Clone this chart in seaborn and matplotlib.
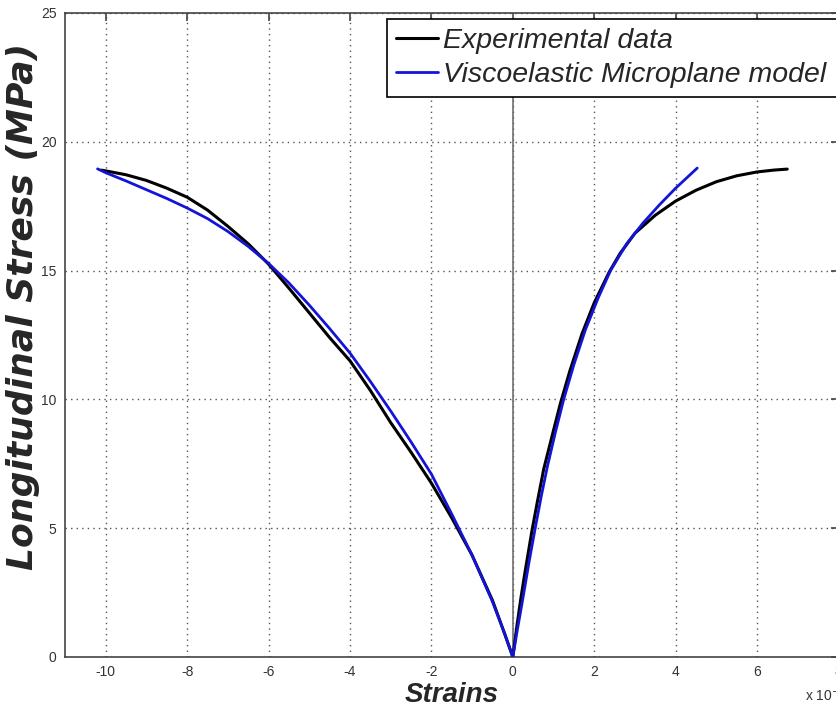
import matplotlib
matplotlib.use("Agg")
import matplotlib.pyplot as plt
import seaborn as sns

# strains are in units of 1e-3
exp_x = [-10.1, -9.5, -9.0, -8.5, -8.0, -7.5, -7.0, -6.5, -6.0, -5.5, -5.0, -4.5,
         -4.0, -3.5, -3.0, -2.5, -2.0, -1.5, -1.0, -0.5, -0.2, 0.0,
         0.1, 0.2, 0.3, 0.47, 0.6, 0.76, 1.0, 1.17, 1.4, 1.7, 2.0, 2.37, 2.64,
         3.0, 3.5, 4.0, 4.5, 5.0, 5.5, 6.0, 6.4, 6.74]
exp_y = [18.9, 18.72, 18.5, 18.2, 17.85, 17.35, 16.72, 16.04, 15.25, 14.32, 13.36, 12.4,
         11.5, 10.35, 9.1, 7.95, 6.75, 5.4, 3.95, 2.2, 0.9, 0.0,
         1.2, 2.3, 3.3, 4.9, 6.0, 7.3, 8.8, 9.85, 11.1, 12.55, 13.75, 14.95, 15.68,
         16.45, 17.15, 17.7, 18.12, 18.45, 18.68, 18.83, 18.9, 18.94]

model_x = [-10.2, -10.0, -9.5, -9.0, -8.5, -8.0, -7.5, -7.0, -6.5, -6.0, -5.5, -5.0,
           -4.5, -4.0, -3.5, -3.0, -2.5, -2.0, -1.5, -1.0, -0.5, -0.2, 0.0,
           0.1, 0.25, 0.4, 0.55, 0.7, 0.85, 1.05, 1.25, 1.5, 1.78, 2.1, 2.4,
           2.8, 3.2, 3.6, 4.0, 4.53]
model_y = [18.95, 18.8, 18.48, 18.14, 17.8, 17.43, 17.02, 16.52, 15.94, 15.28, 14.52, 13.66,
           12.75, 11.8, 10.7, 9.55, 8.35, 7.1, 5.55, 3.95, 2.15, 0.9, 0.0,
           0.95, 2.3, 3.7, 5.0, 6.25, 7.4, 8.75, 10.0, 11.35, 12.69, 13.95, 15.0,
           16.05, 16.85, 17.55, 18.2, 18.98]

labels = ["Experimental data", "Viscoelastic Microplane model"]
x_ticks = [-10, -8, -6, -4, -2, 0, 2, 4, 6, 8]
y_ticks = [0, 5, 10, 15, 20, 25]

sns.set_style("white")
plt.rcParams['font.family'] = ['Liberation Sans', 'DejaVu Sans']
plt.rcParams['axes.unicode_minus'] = False

W, H = 836, 708
fig = plt.figure(figsize=(W / 100, H / 100), dpi=100)
ax = fig.add_axes([65 / W, (H - 657) / H, (838.5 - 65) / W, 644 / H])

ax.axvline(0, color='#707070', lw=1.2, zorder=1)
sns.lineplot(x=exp_x, y=exp_y, ax=ax, color='black', lw=2.2, sort=False,
             estimator=None, label=labels[0], zorder=3)
sns.lineplot(x=model_x, y=model_y, ax=ax, color='#1414d8', lw=2.0, sort=False,
             estimator=None, label=labels[1], zorder=4)

ax.set_xlim(-11, 8)
ax.set_ylim(0, 25)
ax.set_xticks(x_ticks)
ax.set_yticks(y_ticks)
ax.grid(True, color='#555555', linestyle=(0, (1, 3)), lw=1)
ax.tick_params(direction='in', length=6, width=1.2, color='#444444',
               labelsize=10, labelcolor='#333333', top=True, right=True, pad=6)
for s in ax.spines.values():
    s.set_color('#444444')
    s.set_linewidth(1.2)

ax.set_xlabel("Strains", fontsize=20, fontweight='bold', fontstyle='italic', labelpad=2)
ax.set_ylabel("Longitudinal Stress (MPa)", fontsize=26, fontweight='bold',
              fontstyle='italic', family=['DejaVu Sans'])
ax.yaxis.label.set_va('center')
ax.yaxis.set_label_coords((23 - 65) / 773.5, (657 - 306) / 644)
fig.text(805 / W, 1 - 695 / H, r"x 10$^{-3}$", fontsize=10, color='#333333',
         va='center', ha='left')

# legend box runs past the right edge of the picture, like the source
leg = ax.legend(loc='upper left', bbox_to_anchor=(387 / W, 0, 470 / W, 1 - 19 / H),
                bbox_transform=fig.transFigure, mode='expand', fontsize=20.5,
                frameon=True, fancybox=False, framealpha=1, edgecolor='black',
                handlelength=1.5, handletextpad=0.15, labelspacing=0.3,
                borderpad=0.3, borderaxespad=0)
for t in leg.get_texts():
    t.set_fontstyle('italic')
leg.get_frame().set_linewidth(1.2)

fig.savefig("out.png", dpi=100)
